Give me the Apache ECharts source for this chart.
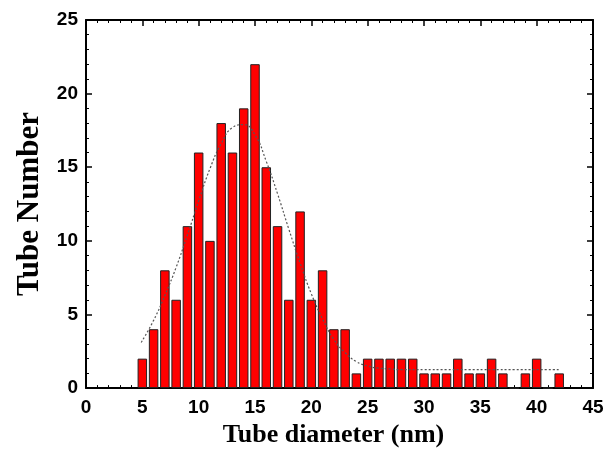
<!DOCTYPE html>
<html>
<head>
<meta charset="utf-8">
<script src="https://cdn.jsdelivr.net/npm/echarts@6/dist/echarts.min.js"></script>
<style>
html,body{margin:0;padding:0;background:#fff;}
#chart{width:616px;height:453px;}
</style>
</head>
<body>
<div id="chart"></div>
<script>
const diameters = [5,6,7,8,9,10,11,12,13,14,15,16,17,18,19,20,21,22,23,24,25,26,27,28,29,30,31,32,33,34,35,36,37,38,39,40,41,42];
const counts    = [2,4,8,6,11,16,10,18,16,19,22,15,11,6,12,6,8,4,4,1,2,2,2,2,2,1,1,1,2,1,1,2,1,0,1,2,0,1];
const fitX = [4.9,6,7,8,9,10,11,12,13,14,15,16,17,18,19,20,21,22,23,24,25,26,27,28,30,32,34,36,38,40,42];
const fitY = [3.1,4.6,6.3,8.2,10.4,12.7,14.9,16.6,17.7,17.9,17.2,15.4,13.2,10.8,8.5,6.4,4.7,3.3,2.4,1.8,1.5,1.35,1.3,1.25,1.25,1.25,1.25,1.25,1.25,1.25,1.25];
const xTicks = [0,5,10,15,20,25,30,35,40,45];
const yTicks = [0,5,10,15,20,25];

const barData = diameters.map((d,i)=>[d,counts[i]]);
const fitData = fitX.map((x,i)=>[x,fitY[i]]);

const chart = echarts.init(document.getElementById('chart'));
const labelFont = {fontFamily:'Liberation Sans, Arial, sans-serif', fontSize:19, fontWeight:'bold', color:'#000'};
const xNameFont = {fontFamily:'Liberation Serif, Times New Roman, serif', fontSize:26, fontWeight:'bold', color:'#000', padding:[0,12,0,0]};
const yNameFont = {fontFamily:'Liberation Serif, Times New Roman, serif', fontSize:31, fontWeight:'bold', color:'#000'};
const axisLine = {show:true, onZero:false, lineStyle:{color:'#000', width:2}};
const majorTick = {show:true, inside:true, length:6, lineStyle:{color:'#000', width:1.5}};
const minorTick = {show:true, splitNumber:5, length:3, lineStyle:{color:'#000', width:1}};
chart.setOption({
  animation:false,
  grid:{left:86, right:23, top:20, bottom:64, containLabel:false},
  xAxis:[{
    type:'value', min:xTicks[0], max:xTicks[xTicks.length-1], interval:5,
    name:'Tube diameter (nm)', nameLocation:'middle', nameGap:33, nameTextStyle:xNameFont,
    axisLine:axisLine, axisTick:majorTick, minorTick:minorTick,
    axisLabel:Object.assign({margin:10}, labelFont),
    splitLine:{show:false}
  },{
    type:'value', position:'top', min:xTicks[0], max:xTicks[xTicks.length-1], interval:5,
    axisLine:axisLine, axisTick:majorTick, minorTick:minorTick,
    axisLabel:{show:false}, splitLine:{show:false}
  }],
  yAxis:[{
    type:'value', min:yTicks[0], max:yTicks[yTicks.length-1], interval:5,
    name:'Tube Number', nameLocation:'middle', nameGap:40, nameTextStyle:yNameFont,
    axisLine:axisLine, axisTick:majorTick, minorTick:minorTick,
    axisLabel:Object.assign({margin:8}, labelFont),
    splitLine:{show:false}
  },{
    type:'value', position:'right', min:yTicks[0], max:yTicks[yTicks.length-1], interval:5,
    axisLine:axisLine, axisTick:majorTick, minorTick:minorTick,
    axisLabel:{show:false}, splitLine:{show:false}
  }],
  series:[{
    type:'bar', data:barData, barWidth:9.5,
    itemStyle:{color:'#ff0000', borderColor:'#222', borderWidth:1}
  },{
    type:'line', data:fitData, smooth:true, showSymbol:false,
    lineStyle:{color:'#555', width:1.2, type:[2,2]}, z:5
  }]
});
</script>
</body>
</html>
